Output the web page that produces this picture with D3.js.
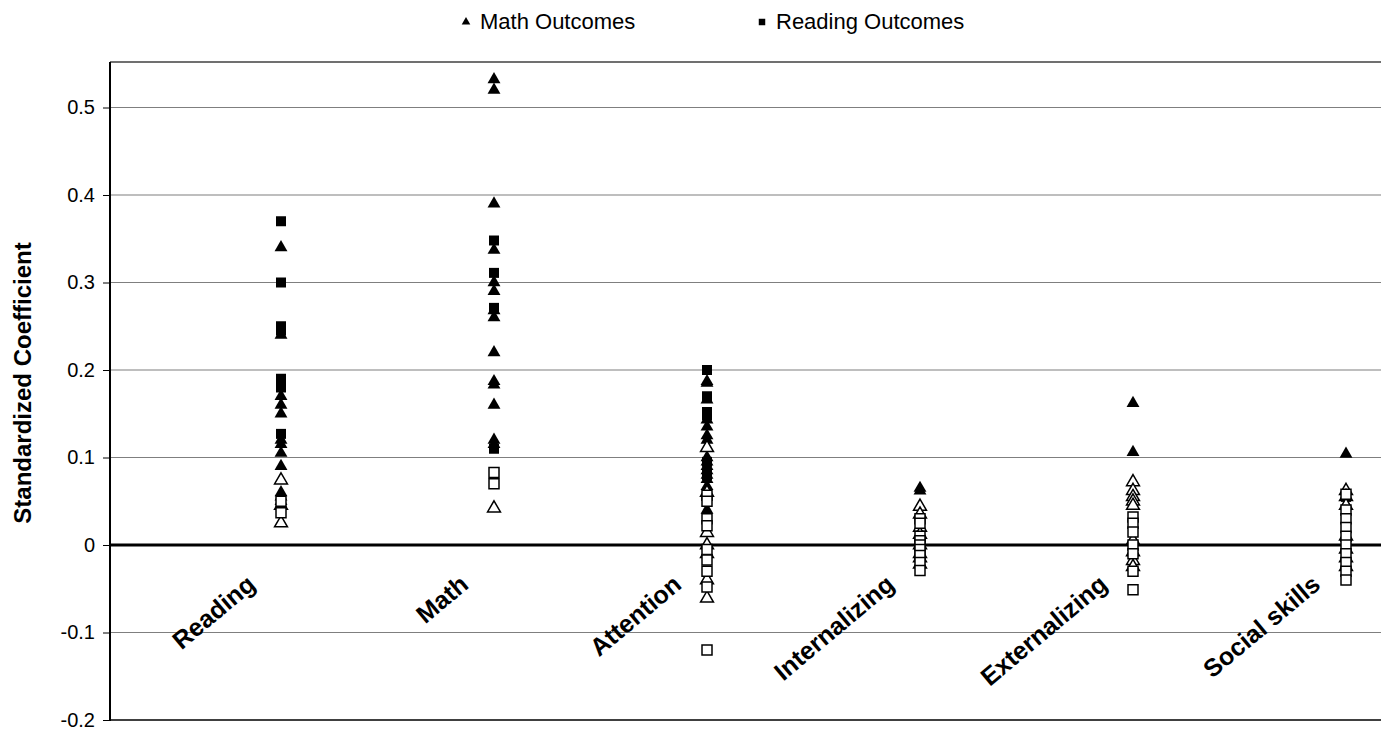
<!DOCTYPE html>
<html>
<head>
<meta charset="utf-8">
<script src="https://cdn.jsdelivr.net/npm/d3@7"></script>
<style>
  body { margin: 0; background: #fff; }
  svg { display: block; font-family: "Liberation Sans", Arial, sans-serif; }
</style>
</head>
<body>
<div id="chart"></div>
<script>
// categories along the x axis
var categories = ["Reading", "Math", "Attention", "Internalizing", "Externalizing", "Social skills"];

// filled triangles: math outcomes (significant)
var mathSig = [
  [0.34, 0.24, 0.17, 0.16, 0.15, 0.12, 0.115, 0.105, 0.09, 0.06, 0.055, 0.05],
  [0.532, 0.52, 0.39, 0.337, 0.30, 0.29, 0.268, 0.26, 0.22, 0.187, 0.183, 0.16, 0.12, 0.115],
  [0.187, 0.185, 0.166, 0.143, 0.135, 0.125, 0.12, 0.1, 0.095, 0.09, 0.085, 0.08, 0.075, 0.067, 0.04],
  [0.065, 0.062],
  [0.162, 0.106],
  [0.104]
];
// open triangles: math outcomes (not significant)
var mathNS = [
  [0.074, 0.045, 0.025],
  [0.042],
  [0.111, 0.06, 0.014, 0.0, -0.01, -0.04, -0.061],
  [0.044, 0.035, 0.02, 0.012, 0.0, -0.01, -0.015, -0.022],
  [0.072, 0.062, 0.055, 0.05, 0.045, 0.005, -0.008, -0.018, -0.025],
  [0.062, 0.055, 0.045, 0.01, -0.005, -0.015, -0.025]
];
// filled squares: reading outcomes (significant)
var readSig = [
  [0.37, 0.30, 0.25, 0.245, 0.19, 0.185, 0.18, 0.127, 0.048],
  [0.348, 0.311, 0.271, 0.11],
  [0.2, 0.17, 0.152, 0.148, 0.095, 0.08],
  [],
  [],
  [0.055, 0.04]
];
// open squares: reading outcomes (not significant)
var readNS = [
  [0.05, 0.037],
  [0.083, 0.07],
  [0.057, 0.05, 0.03, 0.022, -0.005, -0.017, -0.03, -0.048, -0.12],
  [0.03, 0.025, 0.01, 0.005, 0.0, -0.005, -0.012, -0.02, -0.029],
  [0.032, 0.025, 0.015, 0.0, -0.01, -0.03, -0.051],
  [0.058, 0.04, 0.03, 0.02, 0.01, 0.0, -0.01, -0.02, -0.03, -0.04]
];

var yTicks = [-0.2, -0.1, 0, 0.1, 0.2, 0.3, 0.4, 0.5];

var width = 1381, height = 731;
var plot = {left: 110, top: 62, right: 1400, bottom: 720};

var svg = d3.select("#chart").append("svg")
  .attr("width", width)
  .attr("height", height);

var y = d3.scaleLinear().domain([-0.2, 0.552]).range([plot.bottom, plot.top]);
var x = d3.scalePoint().domain(categories).range([281, 1346]);

// gridlines
svg.append("g")
  .selectAll("line")
  .data(yTicks.filter(function(d) { return d !== 0 && d !== -0.2; }))
  .enter().append("line")
  .attr("x1", plot.left).attr("x2", plot.right)
  .attr("y1", function(d) { return y(d); })
  .attr("y2", function(d) { return y(d); })
  .attr("stroke", "#7f7f7f")
  .attr("stroke-width", 1.2);

// top frame
svg.append("line")
  .attr("x1", plot.left).attr("x2", plot.right)
  .attr("y1", plot.top).attr("y2", plot.top)
  .attr("stroke", "#404040").attr("stroke-width", 1.5);

// bottom frame
svg.append("line")
  .attr("x1", plot.left).attr("x2", plot.right)
  .attr("y1", plot.bottom).attr("y2", plot.bottom)
  .attr("stroke", "#000").attr("stroke-width", 1.5);

// y axis
var yAxis = d3.axisLeft(y)
  .tickValues(yTicks)
  .tickSize(7)
  .tickPadding(8)
  .tickFormat(function(d) { return d === 0 ? "0" : d3.format(".1f")(d).replace("\u2212", "-"); });

var ya = svg.append("g")
  .attr("transform", "translate(" + plot.left + ",0)")
  .call(yAxis);
ya.select(".domain").remove();
ya.selectAll(".tick line").attr("stroke", "#000").attr("stroke-width", 1);
ya.selectAll(".tick text")
  .style("font-size", "20px")
  .style("font-family", "Liberation Sans, Arial, sans-serif")
  .attr("fill", "#000");

svg.append("line")
  .attr("x1", plot.left).attr("x2", plot.left)
  .attr("y1", plot.top).attr("y2", plot.bottom + 1)
  .attr("stroke", "#000").attr("stroke-width", 2);

// zero line
svg.append("line")
  .attr("x1", plot.left).attr("x2", plot.right)
  .attr("y1", y(0)).attr("y2", y(0))
  .attr("stroke", "#000").attr("stroke-width", 3);

// y title
svg.append("text")
  .attr("transform", "translate(31,383) rotate(-90)")
  .attr("text-anchor", "middle")
  .style("font-size", "24px")
  .style("font-weight", "bold")
  .text("Standardized Coefficient");

// category labels
svg.append("g")
  .selectAll("text")
  .data(categories)
  .enter().append("text")
  .attr("transform", function(d) { return "translate(" + (x(d) - 24) + "," + (y(0) + 42) + ") rotate(-40)"; })
  .attr("text-anchor", "end")
  .style("font-size", "25px")
  .style("font-weight", "bold")
  .text(function(d) { return d; });

var tri = d3.symbol().type(d3.symbolTriangle).size(72);
var sq = d3.symbol().type(d3.symbolSquare).size(100);

function flatten(arr) {
  var out = [];
  arr.forEach(function(vals, i) {
    vals.forEach(function(v) { out.push({cat: categories[i], v: v}); });
  });
  return out;
}

function drawSeries(arr, shape, filled) {
  svg.append("g")
    .selectAll("path")
    .data(flatten(arr))
    .enter().append("path")
    .attr("d", shape)
    .attr("transform", function(d) { return "translate(" + x(d.cat) + "," + y(d.v) + ")"; })
    .attr("fill", filled ? "#000" : "#fff")
    .attr("stroke", "#000")
    .attr("stroke-width", filled ? 0 : 1.5);
}

drawSeries(mathSig, tri, true);
drawSeries(readSig, sq, true);
drawSeries(mathNS, tri, false);
drawSeries(readNS, sq, false);

// legend
var legend = svg.append("g");
legend.append("path")
  .attr("d", d3.symbol().type(d3.symbolTriangle).size(32))
  .attr("transform", "translate(466,22)");
legend.append("text")
  .attr("x", 480).attr("y", 29)
  .style("font-size", "22px")
  .text("Math Outcomes");
legend.append("path")
  .attr("d", d3.symbol().type(d3.symbolSquare).size(42))
  .attr("transform", "translate(762,22)");
legend.append("text")
  .attr("x", 776).attr("y", 29)
  .style("font-size", "22px")
  .text("Reading Outcomes");
</script>
</body>
</html>
